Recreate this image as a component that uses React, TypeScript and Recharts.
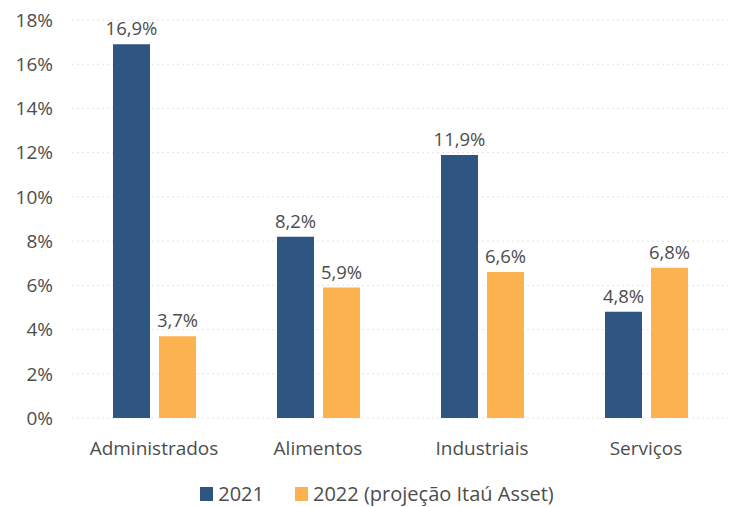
import React from "react";
import {
  BarChart,
  Bar,
  XAxis,
  YAxis,
  CartesianGrid,
  Legend,
  LabelList,
} from "recharts";

const categories = ["Administrados", "Alimentos", "Industriais", "Serviços"];
const values2021 = [16.9, 8.2, 11.9, 4.8];
const values2022 = [3.7, 5.9, 6.6, 6.8];
const yTicks = [0, 2, 4, 6, 8, 10, 12, 14, 16, 18];

const BLUE = "#2f5583";
const ORANGE = "#fbb24f";
const TEXT = "#4d4d4d";

const data = categories.map((name, i) => ({
  name,
  y2021: values2021[i],
  y2022: values2022[i],
}));

const fmt = (v: number) => `${v.toFixed(1).replace(".", ",")}%`;

const LegendContent = ({ payload }: any) => (
  <div
    style={{
      display: "flex",
      justifyContent: "center",
      alignItems: "center",
      paddingLeft: 26,
      fontSize: 20,
      color: TEXT,
      lineHeight: "26px",
    }}
  >
    {(payload || []).map((entry: any, i: number) => (
      <span
        key={i}
        style={{
          display: "inline-flex",
          alignItems: "center",
          marginRight: i === 0 ? 31 : 0,
        }}
      >
        <span
          style={{
            display: "inline-block",
            width: 13,
            height: 14,
            background: entry.color,
            marginRight: 5,
          }}
        />
        {entry.value}
      </span>
    ))}
  </div>
);

export default function App() {
  return (
    <div
      style={{
        position: "absolute",
        left: 0,
        top: 0,
        width: 735,
        height: 507,
        background: "#fff",
        fontFamily: "'Open Sans', sans-serif",
      }}
    >
      <BarChart
        width={735}
        height={507}
        data={data}
        margin={{ top: 20, right: 7, left: 0, bottom: 0 }}
        barSize={37}
        barGap={9}
      >
        <CartesianGrid
          vertical={false}
          stroke="#e4e4e4"
          strokeDasharray="2 3"
        />
        <XAxis
          dataKey="name"
          axisLine={false}
          tickLine={false}
          tickSize={0}
          tickMargin={24}
          height={63}
          tick={{ fill: TEXT, fontSize: 19 }}
        />
        <YAxis
          width={72}
          domain={[0, 18]}
          ticks={yTicks}
          axisLine={false}
          tickLine={false}
          tickSize={0}
          tickMargin={19}
          tickFormatter={(v) => `${v}%`}
          tick={{ fill: TEXT, fontSize: 19 }}
        />
        <Legend verticalAlign="bottom" content={<LegendContent />} />
        <Bar dataKey="y2021" name="2021" fill={BLUE} isAnimationActive={false}>
          <LabelList
            dataKey="y2021"
            position="top"
            offset={9}
            formatter={(v: any) => fmt(Number(v))}
            style={{ fill: TEXT, fontSize: 18.5 }}
          />
        </Bar>
        <Bar
          dataKey="y2022"
          name="2022 (projeção Itaú Asset)"
          fill={ORANGE}
          isAnimationActive={false}
        >
          <LabelList
            dataKey="y2022"
            position="top"
            offset={9}
            formatter={(v: any) => fmt(Number(v))}
            style={{ fill: TEXT, fontSize: 18.5 }}
          />
        </Bar>
      </BarChart>
    </div>
  );
}
